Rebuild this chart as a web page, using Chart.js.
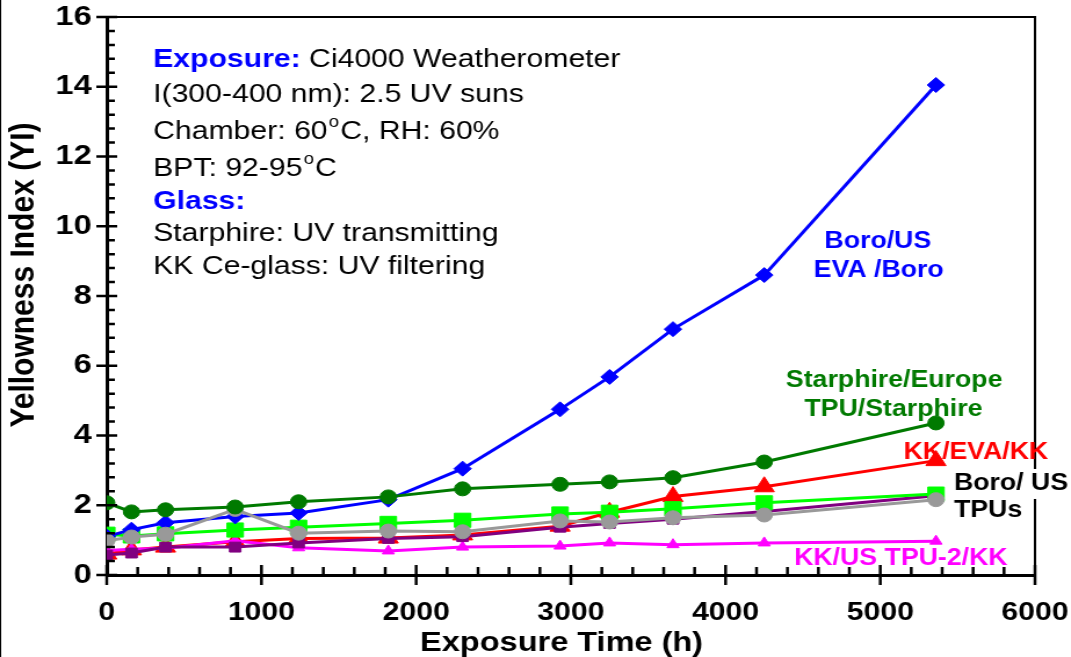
<!DOCTYPE html>
<html>
<head>
<meta charset="utf-8">
<script src="https://cdn.jsdelivr.net/npm/chart.js@4"></script>
<style>
  html, body { margin: 0; padding: 0; background: #fff; overflow: hidden; }
  /* the source figure is stretched sideways, so the whole chart is too */
  #wrap { position: absolute; left: 0; top: 0; width: 923px; height: 657px;
          transform: scaleX(1.1603); transform-origin: 0 0; }
</style>
</head>
<body>
<div id="wrap"><canvas id="chart"></canvas></div>
<script>
// Exposure time (h) of each measurement
const hours = [0, 160, 380, 830, 1240, 1820, 2300, 2930, 3250, 3660, 4250, 5360];

// Yellowness index per module type
const boroEvaBoro      = [1.1, 1.3, 1.5, 1.68, 1.78, 2.16, 3.05, 4.75, 5.68, 7.05, 8.6, 14.05];
const starphireEurope  = [2.07, 1.81, 1.87, 1.95, 2.1, 2.24, 2.47, 2.6, 2.67, 2.79, 3.24, 4.36];
const kkEvaKk          = [0.6, 0.72, 0.8, 0.95, 1.05, 1.06, 1.15, 1.4, 1.8, 2.25, 2.53, 3.28];
const boroTpuGreen     = [1.17, 1.12, 1.18, 1.29, 1.37, 1.48, 1.57, 1.75, 1.8, 1.9, 2.07, 2.32];
const boroTpuGray      = [0.98, 1.09, 1.17, 1.88, 1.2, 1.26, 1.24, 1.55, 1.52, 1.64, 1.72, 2.16];
const boroTpuPurple    = [0.57, 0.63, 0.8, 0.8, 0.92, 1.05, 1.1, 1.37, 1.48, 1.6, 1.82, 2.27];
const kkUsTpu2Kk       = [0.7, 0.74, 0.77, 0.98, 0.78, 0.69, 0.8, 0.83, 0.92, 0.87, 0.92, 0.97];

const xTicks = [0, 1000, 2000, 3000, 4000, 5000, 6000];
const yTicks = [0, 2, 4, 6, 8, 10, 12, 14, 16];

const FONT = "'Liberation Sans', Arial, Helvetica, sans-serif";

function pts(vals) {
  return hours.map((h, i) => ({ x: h, y: vals[i] }));
}

function series(label, vals, color, style, radius) {
  return {
    label: label,
    data: pts(vals),
    borderColor: color,
    backgroundColor: color,
    borderWidth: 3,
    pointStyle: style,
    pointRadius: radius,
    pointBorderWidth: 1,
    pointBackgroundColor: color,
    pointBorderColor: color,
    tension: 0
  };
}

// text notes drawn over the plot (positions in data units)
const notes = {
  blockX: 300,
  rows: [
    { y: 14.78, runs: [['Exposure:', 'bold', '#0000ff'], [' Ci4000 Weatherometer']] },
    { y: 13.77, runs: [['I(300-400 nm): 2.5 UV suns']] },
    { y: 12.71, runs: [['Chamber: 60'], ['o', 'sup'], ['C, RH: 60%']] },
    { y: 11.64, runs: [['BPT: 92-95'], ['o', 'sup'], ['C']] },
    { y: 10.7,  runs: [['Glass:', 'bold', '#0000ff']] },
    { y: 9.78,  runs: [['Starphire: UV transmitting']] },
    { y: 8.83,  runs: [['KK Ce-glass: UV filtering']] }
  ],
  labels: [
    { t: 'Boro/US', x: 4984, y: 9.55, c: '#0000ff', a: 'center' },
    { t: 'EVA /Boro', x: 4990, y: 8.74, c: '#0000ff', a: 'center' },
    { t: 'Starphire/Europe', x: 5090, y: 5.57, c: '#007a00', a: 'center' },
    { t: 'TPU/Starphire', x: 5085, y: 4.74, c: '#007a00', a: 'center' },
    { t: 'KK/EVA/KK', x: 5618, y: 3.5, c: '#ff0000', a: 'center' },
    { t: 'Boro/ US', x: 5476, y: 2.61, c: '#000000', a: 'left', box: true },
    { t: 'TPUs', x: 5476, y: 1.84, c: '#000000', a: 'left', box: true },
    { t: 'KK/US TPU-2/KK', x: 5133, y: 0.46, c: '#ff00ff', a: 'center' }
  ],
  yTitle: { t: 'Yellowness Index (YI)', x: 21, y: 8.6 },
  xTitle: { t: 'Exposure Time (h)', x: 2940, dy: 68 }
};

const decorations = {
  id: 'decorations',
  afterDraw(chart) {
    const ctx = chart.ctx;
    const a = chart.chartArea;
    const xs = chart.scales.x, ys = chart.scales.y;
    ctx.save();

    // frame on top and right
    ctx.strokeStyle = '#000';
    ctx.lineWidth = 2;
    ctx.beginPath();
    ctx.moveTo(a.left, a.top); ctx.lineTo(a.right, a.top); ctx.lineTo(a.right, a.bottom);
    ctx.stroke();

    // tick marks: majors cross the axis, minors point inward
    ctx.lineWidth = 2.5;
    ctx.beginPath();
    for (let v = 0; v <= 6000; v += 200) {
      const px = xs.getPixelForValue(v);
      if (v % 1000 === 0) { ctx.moveTo(px, a.bottom - 10); ctx.lineTo(px, a.bottom + 10); }
      else { ctx.moveTo(px, a.bottom - 8); ctx.lineTo(px, a.bottom); }
    }
    for (let i = 0; i <= 40; i++) {
      const v = i * 0.4;
      const py = ys.getPixelForValue(v);
      if (i % 5 === 0) { ctx.moveTo(a.left - 9, py); ctx.lineTo(a.left + 9, py); }
      else { ctx.moveTo(a.left, py); ctx.lineTo(a.left + 7, py); }
    }
    ctx.stroke();

    // axis titles (both sit a little off-centre in the source)
    ctx.fillStyle = '#000';
    ctx.textAlign = 'center';
    ctx.textBaseline = 'middle';
    ctx.font = 'bold 28px ' + FONT;
    ctx.fillText(notes.xTitle.t, xs.getPixelForValue(notes.xTitle.x), a.bottom + notes.xTitle.dy);
    ctx.save();
    ctx.translate(notes.yTitle.x, ys.getPixelForValue(notes.yTitle.y));
    ctx.rotate(-Math.PI / 2);
    ctx.font = 'bold 30px ' + FONT;
    ctx.fillText(notes.yTitle.t, 0, 0);
    ctx.restore();

    // notes block
    ctx.textAlign = 'left';
    notes.rows.forEach(row => {
      let x = xs.getPixelForValue(notes.blockX);
      const y = ys.getPixelForValue(row.y);
      row.runs.forEach(r => {
        const kind = r[1] || 'normal';
        if (kind === 'sup') {
          ctx.font = '16px ' + FONT;
          ctx.fillStyle = '#000';
          ctx.fillText(r[0], x + 1, y - 9);
          x += ctx.measureText(r[0]).width + 2;
        } else {
          ctx.font = (kind === 'bold' ? 'bold ' : '') + '26px ' + FONT;
          ctx.fillStyle = r[2] || '#000';
          ctx.fillText(r[0], x, y);
          x += ctx.measureText(r[0]).width;
        }
      });
    });

    // series labels
    ctx.font = 'bold 23px ' + FONT;
    notes.labels.forEach(l => {
      const x = xs.getPixelForValue(l.x);
      const y = ys.getPixelForValue(l.y);
      if (l.box) {
        const w = ctx.measureText(l.t).width;
        ctx.fillStyle = '#fff';
        ctx.fillRect(x - 3, y - 15, w + 6, 30);
      }
      ctx.fillStyle = l.c;
      ctx.textAlign = l.a;
      ctx.fillText(l.t, x, y);
    });

    // thin outer line at the left edge of the figure
    ctx.fillStyle = '#000';
    ctx.fillRect(0, 0, 1, chart.height);
    ctx.restore();
  }
};

new Chart(document.getElementById('chart'), {
  type: 'line',
  data: {
    datasets: [
      series('Starphire/Europe TPU/Starphire', starphireEurope, '#007a00', 'circle', 7),
      series('Boro/US TPU (gray)', boroTpuGray, '#999999', 'circle', 7),
      series('Boro/US EVA/Boro', boroEvaBoro, '#0000ff', 'rectRot', 7.5),
      series('Boro/US TPU (green)', boroTpuGreen, '#00ff00', 'rect', 10),
      series('Boro/US TPU (purple)', boroTpuPurple, '#800080', 'rect', 7),
      series('KK/US TPU-2/KK', kkUsTpu2Kk, '#ff00ff', 'triangle', 6),
      series('KK/EVA/KK', kkEvaKk, '#ff0000', 'triangle', 10)
    ]
  },
  options: {
    responsive: true,
    maintainAspectRatio: false,
    animation: false,
    layout: { padding: { left: 0, right: 31, top: 17, bottom: 0 } },
    plugins: { legend: { display: false }, tooltip: { enabled: false } },
    scales: {
      x: {
        type: 'linear',
        min: 0, max: 6000,
        afterFit: s => { s.height = 82; s.paddingLeft = 0; s.paddingRight = 0; },
        afterBuildTicks: s => { s.ticks = xTicks.map(v => ({ value: v })); },
        grid: { display: true, drawOnChartArea: false, drawTicks: false },
        border: { display: true, color: '#000', width: 3 },
        ticks: { color: '#000', padding: 22, maxRotation: 0, callback: v => String(v),
                 font: { family: FONT, size: 26, weight: 'bold' } }
      },
      y: {
        min: 0, max: 16,
        afterFit: s => { s.width = 92; s.paddingTop = 0; s.paddingBottom = 0; },
        afterBuildTicks: s => { s.ticks = yTicks.map(v => ({ value: v })); },
        grid: { display: true, drawOnChartArea: false, drawTicks: false },
        border: { display: true, color: '#000', width: 3 },
        ticks: { color: '#000', padding: 13, callback: v => String(v),
                 font: { family: FONT, size: 28, weight: 'bold' } }
      }
    }
  },
  plugins: [decorations]
});
</script>
</body>
</html>
